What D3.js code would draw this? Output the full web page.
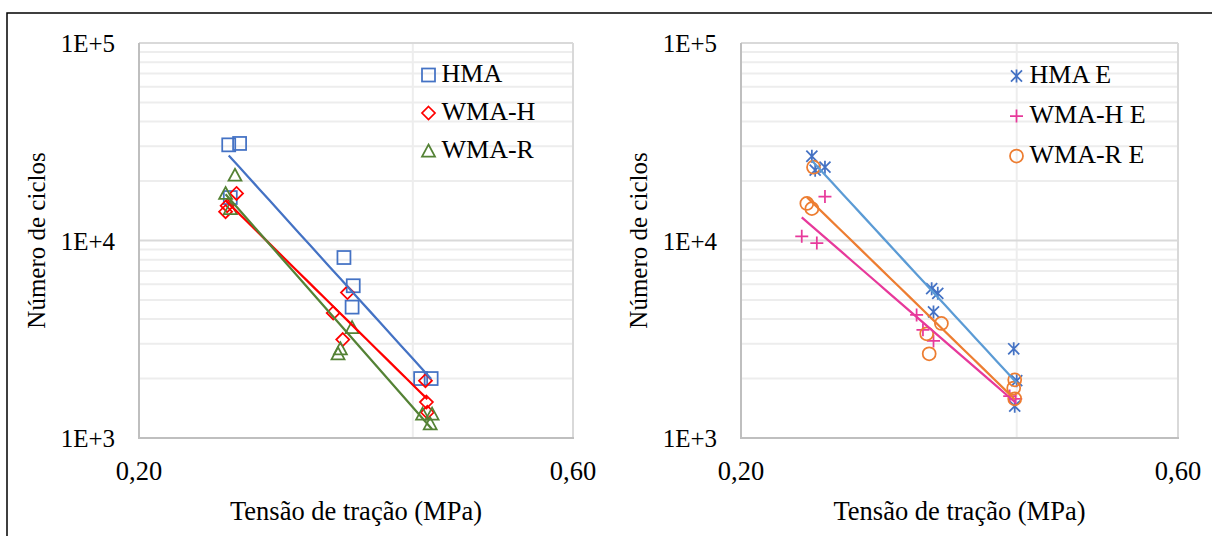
<!DOCTYPE html>
<html>
<head>
<meta charset="utf-8">
<script src="https://cdn.jsdelivr.net/npm/d3@7"></script>
<style>
  html, body { margin: 0; padding: 0; background: #fff; }
  svg { display: block; }
  text { font-family: "Liberation Serif", "Times New Roman", serif; fill: #000; }
</style>
</head>
<body>
<svg id="chart" width="1212" height="536"></svg>
<script>
// Fatigue tests: tensile stress (MPa) vs. number of cycles, power-law trendlines.
const xTickLabels = ["0,20", "0,60"];
const xTickValues = [0.20, 0.60];
const yTickLabels = ["1E+3", "1E+4", "1E+5"];
const yTickValues = [1e3, 1e4, 1e5];

// Left panel — laboratory mixes
const stressHMA   = [0.251, 0.258, 0.252, 0.336, 0.344, 0.343, 0.408, 0.419];
const cyclesHMA   = [30500, 31000, 16500, 8200, 5900, 4600, 2000, 2000];
const stressWMAH  = [0.249, 0.250, 0.256, 0.339, 0.327, 0.335, 0.413, 0.414, 0.415];
const cyclesWMAH  = [14000, 15000, 17300, 5450, 4300, 3150, 1950, 1520, 1350];
const stressWMAR  = [0.249, 0.255, 0.252, 0.343, 0.331, 0.333, 0.410, 0.420, 0.418];
const cyclesWMAR  = [17300, 21400, 14500, 3620, 2670, 2830, 1320, 1320, 1180];

// Right panel — "E" series
const stressHMAE  = [0.239, 0.241, 0.247, 0.323, 0.328, 0.3245, 0.397, 0.400, 0.398];
const cyclesHMAE  = [26700, 22700, 23500, 5700, 5400, 4350, 2830, 1950, 1450];
const stressWMAHE = [0.247, 0.233, 0.242, 0.311, 0.316, 0.3245, 0.393, 0.399];
const cyclesWMAHE = [16700, 10500, 9700, 4200, 3530, 3100, 1630, 1580];
const stressWMARE = [0.240, 0.236, 0.239, 0.331, 0.319, 0.321, 0.398, 0.397, 0.398];
const cyclesWMARE = [23500, 15400, 14500, 3800, 3370, 2670, 1970, 1790, 1580];

const panels = [
  {
    left: 139, right: 573,
    series: [
      { name: "HMA",   xs: stressHMA,  ys: cyclesHMA,  marker: "square",   color: "#4472C4", line: "#4472C4" },
      { name: "WMA-H", xs: stressWMAH, ys: cyclesWMAH, marker: "diamond",  color: "#FF0000", line: "#FF0000" },
      { name: "WMA-R", xs: stressWMAR, ys: cyclesWMAR, marker: "triangle", color: "#548235", line: "#548235" }
    ],
    legend: { x: 428.5, y: 75, dy: 38 }
  },
  {
    left: 741, right: 1178,
    series: [
      { name: "HMA E",   xs: stressHMAE,  ys: cyclesHMAE,  marker: "asterisk", color: "#4472C4", line: "#5B9BD5" },
      { name: "WMA-H E", xs: stressWMAHE, ys: cyclesWMAHE, marker: "plus",     color: "#E7399B", line: "#E7399B" },
      { name: "WMA-R E", xs: stressWMARE, ys: cyclesWMARE, marker: "circle",   color: "#ED7D31", line: "#ED7D31" }
    ],
    legend: { x: 1016.5, y: 76, dy: 40 }
  }
];

const plotTop = 43, plotBottom = 438;
const svg = d3.select("#chart");

// outer frame
svg.append("rect").attr("x", 7).attr("y", 13).attr("width", 1230).attr("height", 560)
  .attr("fill", "none").attr("stroke", "#000").attr("stroke-width", 1.5);

function drawMarker(g, type, cx, cy, color) {
  const s = 6.5;
  const m = g.append("g").attr("transform", `translate(${cx},${cy})`)
    .attr("fill", "none").attr("stroke", color).attr("stroke-width", 1.75);
  if (type === "square") {
    m.append("rect").attr("x", -s).attr("y", -s).attr("width", 2 * s).attr("height", 2 * s);
  } else if (type === "diamond") {
    m.append("path").attr("d", `M0,${-s}L${s},0L0,${s}L${-s},0Z`);
  } else if (type === "triangle") {
    m.append("path").attr("d", `M0,${-s}L${s},${s - 1}L${-s},${s - 1}Z`);
  } else if (type === "circle") {
    m.append("circle").attr("r", s);
  } else if (type === "plus") {
    m.append("path").attr("d", `M${-s},0H${s}M0,${-s}V${s}`);
  } else if (type === "asterisk") {
    const d = s * 0.85;
    m.append("path").attr("d", `M0,${-s}V${s}M${-d},${-d}L${d},${d}M${-d},${d}L${d},${-d}`);
  }
}

// least-squares power fit: N = a * S^b
function powerFit(xs, ys) {
  const lx = xs.map(Math.log), ly = ys.map(Math.log);
  const n = xs.length;
  const mx = d3.mean(lx), my = d3.mean(ly);
  let sxy = 0, sxx = 0;
  for (let i = 0; i < n; i++) { sxy += (lx[i] - mx) * (ly[i] - my); sxx += (lx[i] - mx) ** 2; }
  const b = sxy / sxx, lnA = my - b * mx;
  return x => Math.exp(lnA + b * Math.log(x));
}

panels.forEach(p => {
  const x = d3.scaleLog().base(3).domain([0.2, 0.6]).range([p.left, p.right]);
  const y = d3.scaleLog().domain([1e3, 1e5]).range([plotBottom, plotTop]);
  const g = svg.append("g");

  // minor gridlines
  const minor = [];
  [1e3, 1e4].forEach(dec => { for (let k = 2; k <= 9; k++) minor.push(dec * k); });
  g.selectAll(".hmin").data(minor).join("line")
    .attr("x1", p.left).attr("x2", p.right)
    .attr("y1", d => y(d)).attr("y2", d => y(d))
    .attr("stroke", "#EDEDED").attr("stroke-width", 2);
  g.append("line").attr("x1", x(0.4)).attr("x2", x(0.4)).attr("y1", plotTop).attr("y2", plotBottom)
    .attr("stroke", "#EDEDED").attr("stroke-width", 2);
  // major gridline
  g.append("line").attr("x1", p.left).attr("x2", p.right).attr("y1", y(1e4)).attr("y2", y(1e4))
    .attr("stroke", "#D9D9D9").attr("stroke-width", 2);
  // plot border
  g.append("line").attr("x1", p.left).attr("x2", p.right).attr("y1", plotTop).attr("y2", plotTop)
    .attr("stroke", "#D9D9D9").attr("stroke-width", 2);
  g.append("line").attr("x1", p.right).attr("x2", p.right).attr("y1", plotTop).attr("y2", plotBottom)
    .attr("stroke", "#D9D9D9").attr("stroke-width", 2);
  // axis lines
  g.append("line").attr("x1", p.left).attr("x2", p.left).attr("y1", plotTop).attr("y2", plotBottom + 1)
    .attr("stroke", "#BFBFBF").attr("stroke-width", 2);
  g.append("line").attr("x1", p.left).attr("x2", p.right + 1).attr("y1", plotBottom).attr("y2", plotBottom)
    .attr("stroke", "#BFBFBF").attr("stroke-width", 2);

  // tick labels
  g.selectAll(".yt").data(yTickValues).join("text")
    .attr("x", p.left - 24).attr("y", d => y(d)).attr("dy", "0.36em")
    .attr("text-anchor", "end").attr("font-size", 25)
    .text((d, i) => yTickLabels[i]);
  g.selectAll(".xt").data(xTickValues).join("text")
    .attr("x", d => x(d)).attr("y", plotBottom + 42)
    .attr("text-anchor", "middle").attr("font-size", 26.5)
    .text((d, i) => xTickLabels[i]);

  // axis titles
  g.append("text").attr("x", (p.left + p.right) / 2).attr("y", 520)
    .attr("text-anchor", "middle").attr("font-size", 26.5).text("Tensão de tração (MPa)");
  g.append("text").attr("transform", `translate(${p.left - 94},${(plotTop + plotBottom) / 2}) rotate(-90)`)
    .attr("text-anchor", "middle").attr("font-size", 25).text("Número de ciclos");

  // markers
  p.series.forEach(s => {
    s.xs.forEach((v, i) => drawMarker(g, s.marker, x(v), y(s.ys[i]), s.color));
  });
  // power trendlines
  p.series.forEach(s => {
    const f = powerFit(s.xs, s.ys);
    const pts = d3.range(0, 21).map(t => {
      const xv = d3.min(s.xs) * Math.pow(d3.max(s.xs) / d3.min(s.xs), t / 20);
      return [x(xv), y(f(xv))];
    });
    g.append("path").attr("d", d3.line()(pts)).attr("fill", "none")
      .attr("stroke", s.line).attr("stroke-width", 2.25);
  });

  // legend
  p.series.forEach((s, i) => {
    const ly = p.legend.y + i * p.legend.dy;
    drawMarker(g, s.marker, p.legend.x, ly, s.color);
    g.append("text").attr("x", p.legend.x + 13).attr("y", ly + 7)
      .attr("font-size", 26).text(s.name);
  });
});
</script>
</body>
</html>
